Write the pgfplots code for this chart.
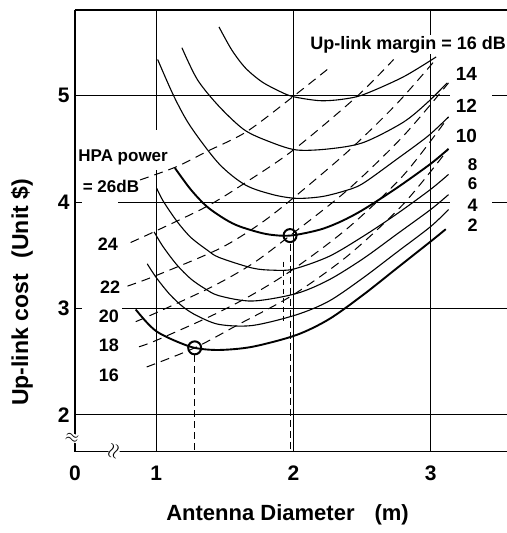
\documentclass[border=0pt]{standalone}
\usepackage{fontspec}
\setmainfont{Liberation Sans}
\usepackage{pgfplots}
\pgfplotsset{compat=1.18}
\begin{document}
\begin{tikzpicture}
\begin{axis}[
  scale only axis, width=432pt, height=441.7pt,
  xmin=0.4074, xmax=3.556, ymin=1.654, ymax=5.805,
  axis x line*=bottom, axis y line*=left,
  axis line style={line width=1.5pt,-},
  xtick={0.4074,1,2,3}, xticklabels={0,1,2,3},
  ytick={2,3,4,5}, yticklabels={2,3,4,5},
  major tick length=0pt,
  grid=major, grid style={black, line width=0.9pt},
  ticklabel style={font=\fontsize{21}{22}\selectfont\bfseries},
  xticklabel style={yshift=-11pt},
  yticklabel style={xshift=-2pt},
  clip=false,
]
% masks for the grid gaps next to the labels
\fill[white] (axis cs:0.459,3.975) rectangle (axis cs:0.721,4.025);
\fill[white] (axis cs:0.459,2.975) rectangle (axis cs:0.750,3.025);
\fill[white] (axis cs:3.141,4.975) rectangle (axis cs:3.447,5.025);
\fill[white] (axis cs:3.141,3.975) rectangle (axis cs:3.447,4.025);
\fill[white] (axis cs:0.985,4.30) rectangle (axis cs:1.015,4.68);
\draw[line width=1.5pt] (rel axis cs:0,1) -- (rel axis cs:1,1);

% Up-link margin curves
\addplot[smooth, line width=1.1pt] coordinates {(1.457,5.646) (1.55,5.43) (1.65,5.26) (1.77,5.13) (1.90,5.04) (2.0,4.99) (2.19,4.953) (2.35,4.965) (2.51,5.01) (2.80,5.176) (3.04,5.364)};
\addplot[smooth, line width=1.1pt] coordinates {(1.187,5.45) (1.30,5.15) (1.457,4.90) (1.64,4.68) (1.82,4.57) (2.02,4.49) (2.26,4.50) (2.51,4.56) (2.80,4.75) (2.98,4.94) (3.12,5.12)};
\addplot[smooth, line width=1.1pt] coordinates {(1.01,5.34) (1.13,4.99) (1.25,4.71) (1.457,4.36) (1.65,4.16) (1.85,4.07) (2.02,4.035) (2.2,4.05) (2.36,4.10) (2.5,4.17) (2.75,4.40) (2.98,4.62) (3.13,4.80)};
\addplot[smooth, line width=1.9pt] coordinates {(1.136,4.32) (1.25,4.12) (1.367,3.96) (1.50,3.84) (1.61,3.77) (1.80,3.70) (1.975,3.685) (2.19,3.74) (2.35,3.82) (2.51,3.93) (2.75,4.13) (3.0,4.36) (3.13,4.50)};
\addplot[smooth, line width=1.1pt] coordinates {(1.003,4.13) (1.05,4.01) (1.15,3.82) (1.25,3.67) (1.37,3.55) (1.457,3.48) (1.7,3.38) (1.85,3.36) (2.0,3.37) (2.26,3.49) (2.51,3.68) (2.755,3.89) (3.0,4.12) (3.13,4.26)};
\addplot[smooth, line width=1.1pt] coordinates {(0.984,3.72) (1.05,3.58) (1.15,3.41) (1.25,3.28) (1.35,3.19) (1.457,3.12) (1.7,3.07) (2.02,3.14) (2.26,3.27) (2.51,3.47) (2.755,3.70) (3.0,3.93) (3.13,4.07)};
\addplot[smooth, line width=1.1pt] coordinates {(0.934,3.42) (1.0,3.29) (1.1,3.13) (1.2,3.01) (1.3,2.93) (1.458,2.85) (1.7,2.84) (2.02,2.94) (2.26,3.07) (2.51,3.29) (2.755,3.53) (3.0,3.77) (3.13,3.93)};
\addplot[smooth, line width=1.9pt] coordinates {(0.85,2.99) (0.93,2.87) (1.007,2.78) (1.13,2.70) (1.28,2.63) (1.458,2.61) (1.70,2.64) (2.02,2.75) (2.26,2.90) (2.51,3.13) (2.755,3.38) (3.0,3.63) (3.11,3.745)};

% HPA power curves
\pgfplotsset{hpa/.style={smooth, line width=1.0pt, dash pattern=on 9pt off 6pt}}
\addplot[hpa] coordinates {(0.882,4.208) (1.149,4.333) (1.367,4.474) (1.659,4.662) (1.996,4.99) (2.26,5.26)};
\addplot[hpa] coordinates {(0.813,3.62) (0.983,3.72) (1.37,3.96) (1.659,4.19) (2.0,4.49) (2.46,4.99) (2.73,5.34)};
\addplot[hpa] coordinates {(0.79,3.21) (1.0,3.31) (1.457,3.56) (1.75,3.79) (2.0,4.04) (2.4,4.48) (2.75,4.92) (3.03,5.33)};
\addplot[hpa] coordinates {(0.85,2.876) (1.0,2.96) (1.4,3.20) (1.7,3.42) (1.975,3.685) (2.4,4.12) (2.8,4.62) (3.13,5.12)};
\addplot[hpa] coordinates {(0.874,2.64) (1.0,2.70) (1.4,2.93) (1.7,3.13) (2.0,3.37) (2.4,3.76) (2.8,4.25) (3.13,4.80)};
\addplot[hpa] coordinates {(0.93,2.45) (1.28,2.63) (1.6,2.85) (2.0,3.13) (2.4,3.50) (2.8,3.98) (3.13,4.50)};

% drop lines and optimum points
\addplot[line width=1.0pt, dash pattern=on 7pt off 4pt] coordinates {(1.28,2.56) (1.28,1.654)};
\addplot[line width=1.0pt, dash pattern=on 7pt off 4pt] coordinates {(1.975,3.61) (1.975,1.654)};
\addplot[line width=0.7pt, dash pattern=on 5pt off 4pt] coordinates {(1.925,3.44) (1.925,2.85)};
\addplot[only marks, mark=o, mark size=6.5pt, line width=2pt, mark options={fill=none}] coordinates {(1.28,2.63) (1.975,3.685)};

% labels
\node[font=\fontsize{18}{20}\selectfont\bfseries, fill=white, inner sep=1pt] at (axis cs:2.835,5.477) {Up-link margin = 16 dB};
\node[font=\fontsize{19}{20}\selectfont\bfseries, inner sep=1pt] at (axis cs:3.261,5.204) {14};
\node[font=\fontsize{19}{20}\selectfont\bfseries, inner sep=1pt] at (axis cs:3.261,4.908) {12};
\node[font=\fontsize{19}{20}\selectfont\bfseries, inner sep=1pt] at (axis cs:3.261,4.624) {10};
\node[font=\fontsize{17}{18}\selectfont\bfseries, inner sep=0pt] at (axis cs:3.305,4.35) {8};
\node[font=\fontsize{17}{18}\selectfont\bfseries, inner sep=0pt] at (axis cs:3.305,4.175) {6};
\node[font=\fontsize{18}{20}\selectfont\bfseries, fill=white, inner sep=1pt] at (axis cs:3.305,3.973) {4};
\node[font=\fontsize{18}{20}\selectfont\bfseries, inner sep=1pt] at (axis cs:3.305,3.785) {2};
\node[font=\fontsize{17}{20}\selectfont\bfseries, fill=white, inner sep=1.5pt, anchor=west] at (axis cs:0.42,4.419) {HPA power};
\node[font=\fontsize{17}{20}\selectfont\bfseries, inner sep=1pt, anchor=west] at (axis cs:0.456,4.145) {= 26dB};
\node[font=\fontsize{18}{20}\selectfont\bfseries, inner sep=1pt] at (axis cs:0.648,3.606) {24};
\node[font=\fontsize{18}{20}\selectfont\bfseries, inner sep=1pt] at (axis cs:0.663,3.197) {22};
\node[font=\fontsize{18}{20}\selectfont\bfseries, inner sep=1pt] at (axis cs:0.655,2.923) {20};
\node[font=\fontsize{18}{20}\selectfont\bfseries, inner sep=1pt] at (axis cs:0.655,2.652) {18};
\node[font=\fontsize{18}{20}\selectfont\bfseries, inner sep=1pt] at (axis cs:0.655,2.375) {16};
\node[font=\fontsize{22}{24}\selectfont\bfseries] at (axis cs:1.957,1.059) {Antenna Diameter\hspace{20pt}(m)};
\node[font=\fontsize{23}{24}\selectfont\bfseries, rotate=90] at (axis cs:0.021,3.15) {Up-link cost\hspace{16pt}(Unit \$)};

\coordinate (ybrk) at (axis cs:0.4074,1.785);
\coordinate (xbrk) at (axis cs:0.692,1.654);
\coordinate (bbl) at (axis cs:-0.139,0.890);
\coordinate (btr) at (axis cs:3.556,5.899);
\end{axis}
\node[fill=white, inner sep=0pt, font=\fontsize{18}{18}\selectfont, xshift=-3pt, rotate=-15] at (ybrk) {$\approx$};
\node[fill=white, inner sep=0.3pt, font=\fontsize{20}{20}\selectfont, rotate=75] at (xbrk) {$\approx$};
\pgfresetboundingbox
\path[use as bounding box] (bbl) rectangle (btr);
\end{tikzpicture}
\end{document}
